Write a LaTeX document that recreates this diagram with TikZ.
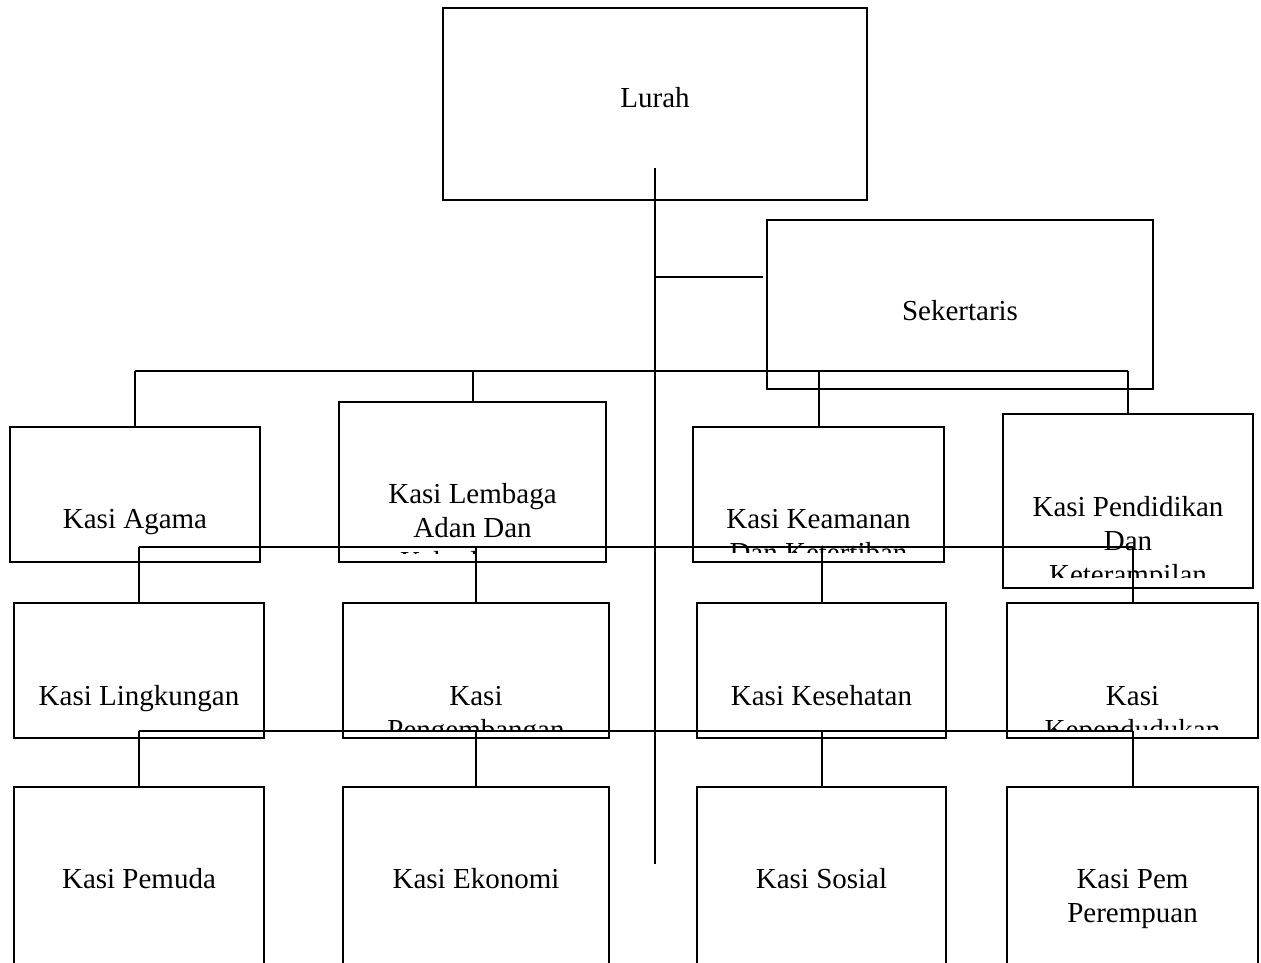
\documentclass[tikz,border=0pt]{standalone}
\usepackage{fontspec}
\setmainfont{Liberation Serif}
\begin{document}
\begin{tikzpicture}[x=0.5pt,y=-0.5pt,
  box/.style={draw,line width=1pt,inner sep=0pt,outer sep=0pt},
  lbl/.style={font=\fontsize{14.5}{17}\selectfont,anchor=base,inner sep=0pt,align=center},
  wire/.style={line width=1pt}]
\useasboundingbox (0,0) rectangle (1261,962);
\clip (0,0) rectangle (1261,962);
% boxes
\node[box,minimum width=212pt,minimum height=96pt] (lurah) at (655,104) {};
\node[box,minimum width=193pt,minimum height=84.5pt] (sek) at (960,304.5) {};
\node[box,minimum width=125pt,minimum height=67.5pt] (agama) at (135,494.5) {};
\node[box,minimum width=133.5pt,minimum height=80pt] (lembaga) at (472.5,482) {};
\node[box,minimum width=125.5pt,minimum height=67.5pt] (keamanan) at (818.5,494.5) {};
\node[box,minimum width=125pt,minimum height=87pt] (pend) at (1128,501) {};
\node[box,minimum width=125pt,minimum height=67.5pt] (ling) at (139,670.5) {};
\node[box,minimum width=133pt,minimum height=67.5pt] (pengem) at (476,670.5) {};
\node[box,minimum width=124.5pt,minimum height=67.5pt] (kes) at (821.5,670.5) {};
\node[box,minimum width=125.5pt,minimum height=67.5pt] (kepen) at (1132.5,670.5) {};
\node[box,minimum width=125pt,minimum height=106.5pt] (pemuda) at (139,893.5) {};
\node[box,minimum width=133pt,minimum height=106.5pt] (ekonomi) at (476,893.5) {};
\node[box,minimum width=124.5pt,minimum height=106.5pt] (sosial) at (821.5,893.5) {};
\node[box,minimum width=125.5pt,minimum height=106.5pt] (perem) at (1132.5,893.5) {};
% texts (multi-line nodes are placed by the baseline of their last line)
\node[lbl] (t-lurah) at (655,108) {Lurah};
\node[lbl] (t-sek) at (960,321) {Sekertaris};
\node[lbl] (t-agama) at (135,528) {Kasi Agama};
\begin{scope}
  \clip (339,402) rectangle (606,553);
  \node[lbl] (t-lembaga) at (472.5,571) {Kasi Lembaga\\Adan Dan\\Kebudayaan};
\end{scope}
\begin{scope}
  \clip (693,427) rectangle (944,552);
  \node[lbl] (t-keamanan) at (818.5,562) {Kasi Keamanan\\Dan Ketertiban};
\end{scope}
\begin{scope}
  \clip (1003,414) rectangle (1253,577);
  \node[lbl] (t-pend) at (1128,584) {Kasi Pendidikan\\Dan\\Keterampilan};
\end{scope}
\node[lbl] (t-ling) at (139,705) {Kasi Lingkungan};
\begin{scope}
  \clip (343,603) rectangle (609,729);
  \node[lbl] (t-pengem) at (476,739) {Kasi\\Pengembangan};
\end{scope}
\node[lbl] (t-kes) at (821.5,705) {Kasi Kesehatan};
\begin{scope}
  \clip (1007,603) rectangle (1258,729);
  \node[lbl] (t-kepen) at (1132.5,739) {Kasi\\Kependudukan};
\end{scope}
\node[lbl] (t-pemuda) at (139,888) {Kasi Pemuda};
\node[lbl] (t-ekonomi) at (476,888) {Kasi Ekonomi};
\node[lbl] (t-sosial) at (821.5,888) {Kasi Sosial};
\node[lbl] (t-perem) at (1132.5,922) {Kasi Pem\\Perempuan};
% connectors
\coordinate (stemtop) at (655,168);
\coordinate (stembot) at (655,864);
\draw[wire] (stemtop) -- (stembot);
\coordinate (sekjoin) at (655,277);
\coordinate (sekend) at (763,277);
\draw[wire] (sekjoin) -- (sekend);
\coordinate (bus1) at (0,371);
\coordinate (bus2) at (0,547);
\coordinate (bus3) at (0,731);
\draw[wire] (agama.north |- bus1) -- (pend.north |- bus1);
\foreach \n in {agama,lembaga,keamanan,pend} \draw[wire] (\n.north |- bus1) -- (\n.north);
\draw[wire] (ling.north |- bus2) -- (kepen.north |- bus2);
\foreach \n in {ling,pengem,kes,kepen} \draw[wire] (\n.north |- bus2) -- (\n.north);
\draw[wire] (pemuda.north |- bus3) -- (perem.north |- bus3);
\foreach \n in {pemuda,ekonomi,sosial,perem} \draw[wire] (\n.north |- bus3) -- (\n.north);
\end{tikzpicture}
\end{document}
